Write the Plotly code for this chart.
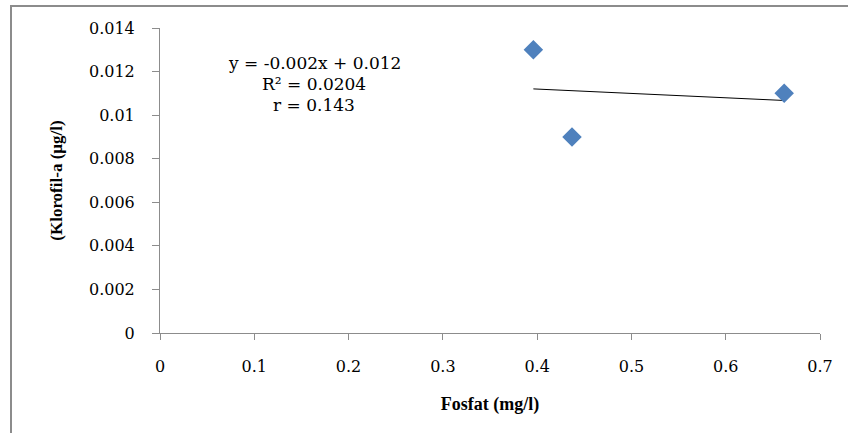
import numpy as np
import plotly.graph_objects as go

# Data
fosfat = [0.396, 0.437, 0.662]
klorofil = [0.013, 0.009, 0.011]
eq_lines = ["y = -0.002x + 0.012", "R² = 0.0204", "r = 0.143"]
x_ticks = [0, 0.1, 0.2, 0.3, 0.4, 0.5, 0.6, 0.7]
y_ticks = [0, 0.002, 0.004, 0.006, 0.008, 0.01, 0.012, 0.014]
y_tick_labels = ["0", "0.002", "0.004", "0.006", "0.008", "0.01", "0.012", "0.014"]
x_title = "Fosfat (mg/l)"
y_title = "(Klorofil-a (µg/l)"

slope, intercept = np.polyfit(fosfat, klorofil, 1)
tx = [min(fosfat), max(fosfat)]
ty = [slope * v + intercept for v in tx]

TICKFONT = "DejaVu Serif"
TITLEFONT = "Liberation Serif"
W, H = 848, 433
L, R, T, B = 160, 28, 28, 100
pw, ph = W - L - R, H - T - B

fig = go.Figure()
fig.add_trace(go.Scatter(x=tx, y=ty, mode="lines",
                         line=dict(color="black", width=1), showlegend=False, hoverinfo="skip"))
fig.add_trace(go.Scatter(x=fosfat, y=klorofil, mode="markers",
                         marker=dict(symbol="diamond", size=15, color="#4F81BD",
                                     line=dict(width=0)), showlegend=False))

eq_y_px = [63, 84, 105]
for txt, py in zip(eq_lines, eq_y_px):
    fig.add_annotation(x=(314 - L) / pw, y=(H - B - py) / ph, xref="paper", yref="paper",
                       text=txt, showarrow=False, xanchor="center", yanchor="middle",
                       font=dict(family=TICKFONT, size=17, color="black"))

# chart-area border (extends beyond the picture at right and bottom)
fig.add_shape(type="rect", xref="paper", yref="paper",
              x0=(11 - L) / pw, x1=(W + 10 - L) / pw,
              y0=(H - B - (H + 10)) / ph, y1=(H - B - 6) / ph,
              line=dict(color="#8c8c8c", width=2), fillcolor="rgba(0,0,0,0)", layer="below")

fig.update_layout(
    width=W, height=H,
    margin=dict(l=L, r=R, t=T, b=B),
    paper_bgcolor="white", plot_bgcolor="white",
    font=dict(family=TICKFONT, color="black"),
    xaxis=dict(range=[0, 0.7], tickvals=x_ticks, ticktext=[str(v) for v in x_ticks],
               showgrid=False, zeroline=False, showline=True, linecolor="#8c8c8c", linewidth=1,
               ticks="outside", ticklen=6, tickcolor="#8c8c8c",
               tickfont=dict(family=TICKFONT, size=16, color="black"),
               ticklabelstandoff=13,
               title=dict(text="<b>" + x_title + "</b>",
                          font=dict(family=TITLEFONT, size=18, color="black"),
                          standoff=22)),
    yaxis=dict(range=[0, 0.014], tickvals=y_ticks, ticktext=y_tick_labels,
               showgrid=False, zeroline=False, showline=True, linecolor="#8c8c8c", linewidth=1,
               ticks="outside", ticklen=7, tickcolor="#8c8c8c",
               tickfont=dict(family=TICKFONT, size=16, color="black"),
               ticklabelstandoff=14,
               title=dict(text="<b>" + y_title + "</b>",
                          font=dict(family=TITLEFONT, size=17, color="black"),
                          standoff=22)),
)

fig.write_html("out.html", config={"displayModeBar": False},
               post_script="document.body.style.margin='0';")
